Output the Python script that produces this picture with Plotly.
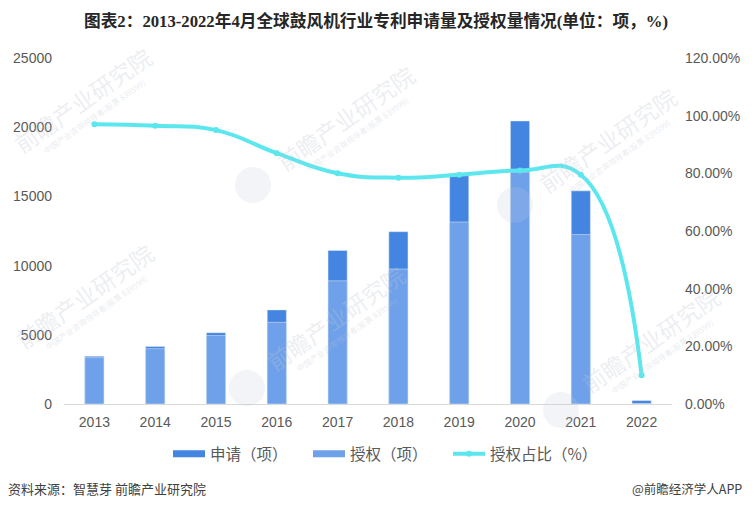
"""Global blower patents: applications, grants and grant ratio, 2013-2022."""
import plotly.graph_objects as go

years = ['2013', '2014', '2015', '2016', '2017', '2018', '2019', '2020', '2021', '2022']
applied = [3450, 4150, 5150, 6800, 11100, 12450, 16500, 20450, 15400, 250]
granted = [3350, 4000, 4950, 5900, 8900, 9750, 13150, 16750, 12250, 30]
grant_ratio = [97, 96.5, 95, 87, 80, 78.5, 79.5, 81, 79.5, 10]

left_ticks = [0, 5000, 10000, 15000, 20000, 25000]
right_ticks = [0, 20, 40, 60, 80, 100, 120]
right_labels = ['0.00%', '20.00%', '40.00%', '60.00%', '80.00%', '100.00%', '120.00%']

TITLE = '图表2：2013-2022年4月全球鼓风机行业专利申请量及授权量情况(单位：项，%)'
SOURCE = '资料来源：智慧芽 前瞻产业研究院'
CREDIT = '@前瞻经济学人APP'
WATERMARK = '前瞻产业研究院'
WATERMARK_SUB = '中国产业咨询领导者(股票 839599)'

BLUE_DARK = '#4385e0'
BLUE_LIGHT = '#6ea1ea'
CYAN = '#5ce6ee'
TEXT = '#595959'
CJK = 'Noto Sans CJK SC'

# plot box in page pixels; the page body adds 8px around the figure
PLOT_LEFT, PLOT_RIGHT, PLOT_TOP, PLOT_BOTTOM = 64, 672, 58, 404


def px(x):
    return (x - PLOT_LEFT) / (PLOT_RIGHT - PLOT_LEFT)


def py(y):
    return (PLOT_BOTTOM - y) / (PLOT_BOTTOM - PLOT_TOP)


fig = go.Figure()
fig.add_trace(go.Bar(x=years, y=applied, marker_color=BLUE_DARK, width=0.315,
                     showlegend=False))
fig.add_trace(go.Bar(x=years, y=granted, marker_color=BLUE_LIGHT, width=0.315,
                     showlegend=False))
fig.add_trace(go.Scatter(x=years, y=grant_ratio, yaxis='y2', mode='lines+markers',
                         line=dict(color=CYAN, width=4, shape='spline', smoothing=1.3),
                         marker=dict(color=CYAN, size=6),
                         showlegend=False))

# bar swatches in the legend are wide strips, so use empty line traces for them
fig.add_trace(go.Scatter(x=[None], y=[None], mode='lines', name='申请（项）',
                         line=dict(color=BLUE_DARK, width=7)))
fig.add_trace(go.Scatter(x=[None], y=[None], mode='lines', name='授权（项）',
                         line=dict(color=BLUE_LIGHT, width=7)))
fig.add_trace(go.Scatter(x=[None], y=[None], mode='lines+markers', name='授权占比（%）',
                         line=dict(color=CYAN, width=4), marker=dict(color=CYAN, size=6)))

fig.update_layout(
    width=745,
    height=501,
    margin=dict(l=56, r=81, t=50, b=105, autoexpand=False),
    barmode='overlay',
    paper_bgcolor='white',
    plot_bgcolor='white',
    font=dict(family='Liberation Sans, ' + CJK, size=14, color=TEXT),
    xaxis=dict(type='category', showgrid=False, showline=True, linecolor='#d9d9d9',
               linewidth=1, ticks='', range=[-0.5, 9.5], zeroline=False,
               ticklabelstandoff=5),
    yaxis=dict(range=[0, 25000], tickvals=left_ticks, showgrid=False, zeroline=False,
               showline=False, ticks='', tickformat='d', ticklabelstandoff=11),
    yaxis2=dict(range=[0, 120], tickvals=right_ticks, ticktext=right_labels,
                overlaying='y', side='right', showgrid=False, zeroline=False,
                showline=False, ticks='', ticklabelstandoff=12),
    legend=dict(orientation='h', x=px(168), xanchor='left', y=-0.096, yanchor='top',
                itemwidth=32, entrywidth=93, entrywidthmode='pixels',
                font=dict(family=CJK, size=15.5, color=TEXT),
                bgcolor='rgba(0,0,0,0)'),
)

# title and footer
fig.add_annotation(text='<b>' + TITLE + '</b>', xref='paper', yref='paper',
                   x=px(376), y=py(21), xanchor='center', yanchor='middle', showarrow=False,
                   font=dict(family='Liberation Serif, ' + CJK, size=16.7, color='#262626'))
fig.add_annotation(text=SOURCE, xref='paper', yref='paper', x=px(6), y=py(488),
                   xanchor='left', yanchor='middle', showarrow=False,
                   font=dict(family=CJK, size=13, color='#404040'))
fig.add_annotation(text=CREDIT, xref='paper', yref='paper', x=px(744), y=py(488),
                   xanchor='right', yanchor='middle', showarrow=False,
                   font=dict(family=CJK, size=12.5, color='#404040'))

# faint publisher watermarks over the plot: text centre, then sub line below it
for wx, wy in [(82, 100), (345, 118), (607, 140), (84, 296), (335, 318), (650, 340)]:
    fig.add_annotation(text=WATERMARK, xref='paper', yref='paper', x=px(wx), y=py(wy),
                       xanchor='center', yanchor='middle', showarrow=False, textangle=-35,
                       font=dict(family=CJK, size=23, color='rgba(190,198,212,0.3)'))
    fig.add_annotation(text=WATERMARK_SUB, xref='paper', yref='paper', x=px(wx + 12), y=py(wy + 16),
                       xanchor='center', yanchor='middle', showarrow=False, textangle=-35,
                       font=dict(family=CJK, size=8, color='rgba(190,198,212,0.35)'))

for cx, cy in [(253, 185), (515, 205), (247, 388), (561, 410)]:
    fig.add_shape(type='circle', xref='paper', yref='paper', x0=px(cx - 18), x1=px(cx + 18),
                  y0=py(cy + 18), y1=py(cy - 18), fillcolor='rgba(190,198,220,0.2)',
                  line_width=0, layer='above')

fig.write_html("out.html")
